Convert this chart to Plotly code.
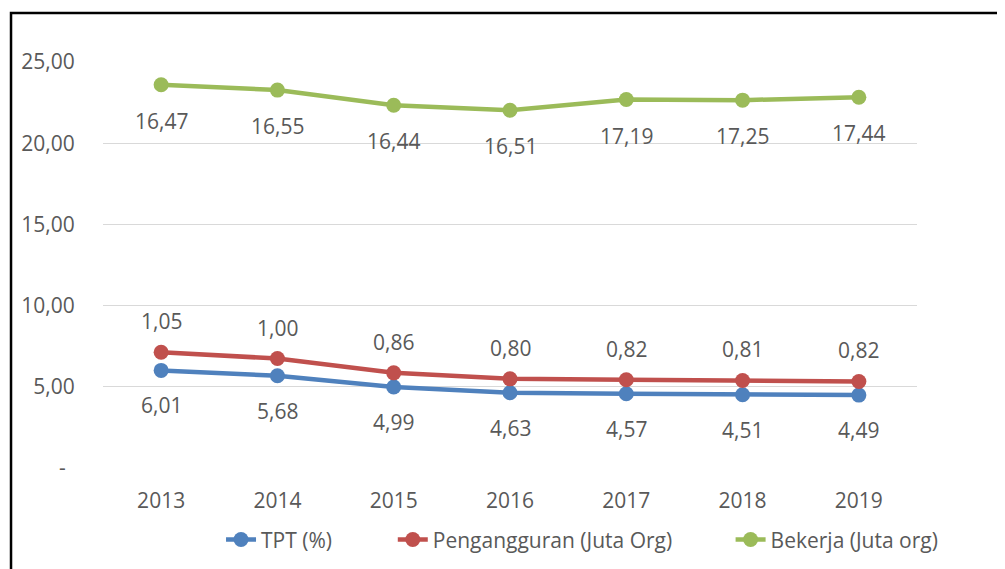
import plotly.graph_objects as go

years = ["2013", "2014", "2015", "2016", "2017", "2018", "2019"]

# plotted positions
tpt_y = [6.01, 5.68, 4.99, 4.63, 4.57, 4.51, 4.49]
pengangguran_y = [7.13, 6.74, 5.86, 5.49, 5.43, 5.39, 5.33]
bekerja_y = [23.60, 23.27, 22.34, 22.03, 22.69, 22.65, 22.83]

# data labels shown in the chart
tpt_lbl = [6.01, 5.68, 4.99, 4.63, 4.57, 4.51, 4.49]
pengangguran_lbl = [1.05, 1.00, 0.86, 0.80, 0.82, 0.81, 0.82]
bekerja_lbl = [16.47, 16.55, 16.44, 16.51, 17.19, 17.25, 17.44]

y_tickvals = [0, 5, 10, 15, 20, 25]
y_ticktext = ["-\u00a0\u2009", "5,00", "10,00", "15,00", "20,00", "25,00"]

FONT = "Open Sans"
TXT = "#595959"
FS = 21


def fmt(v):
    return f"{v:.2f}".replace(".", ",")


series = [
    ("TPT (%)", tpt_y, tpt_lbl, "#4F81BD", -35, "legend", 0.145),
    ("Pengangguran (Juta Org)", pengangguran_y, pengangguran_lbl, "#C0504D", 31, "legend2", 0.356),
    ("Bekerja (Juta org)", bekerja_y, bekerja_lbl, "#9BBB59", -36, "legend3", 0.771),
]

fig = go.Figure()
annotations = []
legends = {}
for name, ys, lbls, color, shift, lg, lx in series:
    fig.add_trace(go.Scatter(
        x=years, y=ys, name=name, mode="lines+markers",
        line=dict(color=color, width=4.5),
        marker=dict(color=color, size=15),
        legend=lg,
    ))
    legends[lg] = dict(
        orientation="h", x=lx, xanchor="left", y=-0.177, yanchor="middle",
        font=dict(family=FONT, size=FS, color=TXT),
        bgcolor="rgba(0,0,0,0)",
    )
    for i, (y, l) in enumerate(zip(ys, lbls)):
        annotations.append(dict(
            x=i, y=y, xref="x", yref="y", text=fmt(l), showarrow=False,
            yshift=shift, yanchor="middle", xanchor="center",
            font=dict(family=FONT, size=FS, color=TXT),
        ))

fig.update_layout(
    width=1005, height=569,
    margin=dict(l=95, r=96, t=54, b=109, autoexpand=False),
    paper_bgcolor="white", plot_bgcolor="white",
    font=dict(family=FONT, size=FS, color=TXT),
    annotations=annotations,
    showlegend=True,
    shapes=[dict(
        type="rect", xref="paper", yref="paper",
        x0=-0.113, x1=1.3, y0=-0.4, y1=1.1206,
        line=dict(color="black", width=2.5), fillcolor="rgba(0,0,0,0)",
        layer="above",
    )],
    **legends,
)

fig.update_xaxes(
    type="category", range=[-0.5, 6.5], autorange=False,
    showgrid=False, zeroline=False, showline=False, automargin=False,
    ticks="outside", ticklen=14, tickcolor="rgba(0,0,0,0)",
    tickfont=dict(family=FONT, size=FS, color=TXT),
)
fig.update_yaxes(
    range=[0, 25], autorange=False, tickvals=y_tickvals, ticktext=y_ticktext,
    showgrid=True, gridcolor="#D9D9D9", gridwidth=1, automargin=False,
    zeroline=False, showline=False,
    ticks="outside", ticklen=23, tickcolor="rgba(0,0,0,0)",
    tickfont=dict(family=FONT, size=FS, color=TXT),
)

fig.write_html("out.html")
